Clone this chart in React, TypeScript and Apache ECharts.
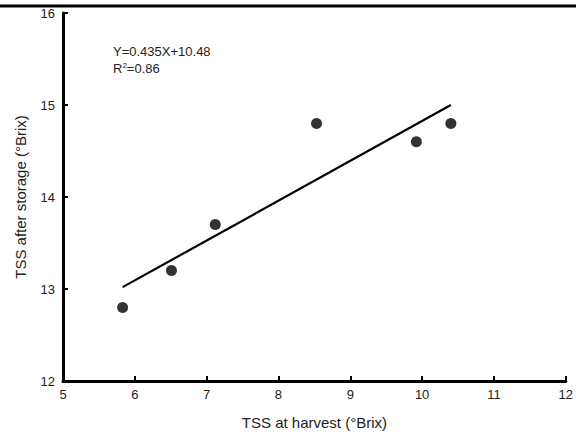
import React, { useEffect, useRef } from "react";
import * as echarts from "echarts";

const xTicks = [5, 6, 7, 8, 9, 10, 11, 12];
const yTicks = [12, 13, 14, 15, 16];
const harvestTSS = [5.83, 6.51, 7.12, 8.53, 9.92, 10.4];
const storageTSS = [12.8, 13.2, 13.7, 14.8, 14.6, 14.8];
const fitX = [5.83, 10.4];
const fitY = [13.02, 15.0];
const equationText = "Y=0.435X+10.48";
const r2Value = "0.86";

export default function App() {
  const ref = useRef<HTMLDivElement>(null);
  useEffect(() => {
    document.body.style.margin = "0";
    const chart = echarts.init(ref.current!, null, { renderer: "svg" });
    const font = "'Liberation Sans', Arial, sans-serif";
    const axisCommon = {
      axisLine: { show: true, onZero: false, lineStyle: { color: "#000", width: 3 } },
      axisTick: { show: true, inside: true, length: 5, lineStyle: { color: "#000", width: 2 } },
      splitLine: { show: false },
      axisLabel: { color: "#222", fontFamily: font, fontSize: 13 },
      nameTextStyle: { color: "#222", fontFamily: font, fontSize: 15 },
    };
    chart.setOption({
      animation: false,
      backgroundColor: "#fff",
      grid: { left: 63, right: 6, top: 13, bottom: 56, containLabel: false },
      xAxis: {
        type: "value",
        min: xTicks[0],
        max: xTicks[xTicks.length - 1],
        interval: 1,
        name: "TSS at harvest (°Brix)",
        nameLocation: "middle",
        nameGap: 34,
        ...axisCommon,
        axisLabel: { ...axisCommon.axisLabel, margin: 7, showMaxLabel: true },
      },
      yAxis: {
        type: "value",
        min: yTicks[0],
        max: yTicks[yTicks.length - 1],
        interval: 1,
        name: "TSS after storage (°Brix)",
        nameLocation: "middle",
        nameGap: 35,
        ...axisCommon,
        axisLabel: { ...axisCommon.axisLabel, margin: 8 },
      },
      series: [
        {
          type: "line",
          data: fitX.map((x, i) => [x, fitY[i]]),
          showSymbol: false,
          symbol: "none",
          lineStyle: { color: "#000", width: 2.2 },
          z: 2,
        },
        {
          type: "scatter",
          data: harvestTSS.map((x, i) => [x, storageTSS[i]]),
          symbol: "circle",
          symbolSize: 11,
          itemStyle: { color: "#000" },
          z: 3,
        },
      ],
      graphic: [
        {
          type: "line",
          z: 100,
          shape: { x1: 0, y1: 6, x2: 576, y2: 6 },
          style: { stroke: "#000", lineWidth: 3 },
        },
        {
          type: "text",
          x: 113,
          y: 45,
          style: {
            text: equationText,
            font: `13px ${font}`,
            fill: "#222",
          },
        },
        {
          type: "text",
          x: 113,
          y: 61,
          style: {
            text: `{a|R}{s|2}{a|=${r2Value}}`,
            fill: "#222",
            rich: {
              a: { fontFamily: font, fontSize: 13, fill: "#222", verticalAlign: "bottom" },
              s: { fontFamily: font, fontSize: 8, fill: "#222", verticalAlign: "top", padding: [0, 0, 6, 0] },
            },
          },
        },
      ],
    });
    return () => chart.dispose();
  }, []);
  return <div ref={ref} style={{ width: 576, height: 437, position: "absolute", left: 0, top: 0 }} />;
}
